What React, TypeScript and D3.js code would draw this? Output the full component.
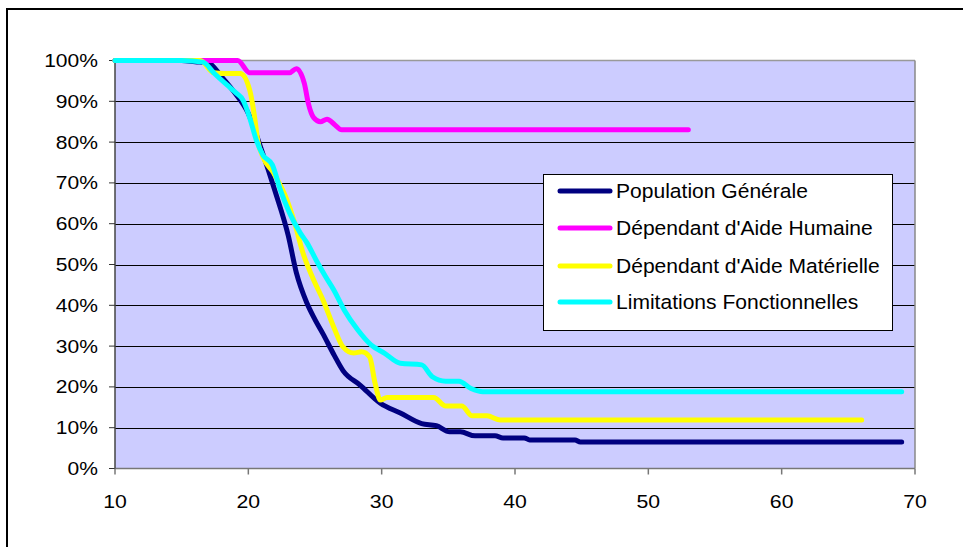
import React from "react";
import * as d3 from "d3";

const seriesNames = [
  "Population Générale",
  "Dépendant d'Aide Humaine",
  "Dépendant d'Aide Matérielle",
  "Limitations Fonctionnelles",
];
const seriesColors = ["#000080", "#FF00FF", "#FFFF00", "#00FFFF"];

const xTicks = [10, 20, 30, 40, 50, 60, 70];
const yTicks = [0, 10, 20, 30, 40, 50, 60, 70, 80, 90, 100];

const popX = [10, 15, 16, 17, 18, 19, 20, 21, 22, 23, 23.6, 24.4, 25, 25.6, 26.4, 27.1, 28.4, 29.9, 31.4, 33, 34.1, 35.1, 35.9, 37, 38.5, 39.1, 40.7, 41.1, 44.5, 44.9, 69];
const popY = [100, 100, 99.7, 99.4, 96, 92, 87, 78, 68, 57, 48, 40.5, 36.5, 33, 28, 24, 20.4, 16, 13.6, 11, 10.5, 9, 9, 8, 8, 7.5, 7.5, 7, 7, 6.5, 6.5];

const humX = [10, 19.2, 20.1, 23.1, 23.6, 24.2, 24.5, 24.9, 25.4, 25.9, 26.5, 27, 53];
const humY = [100, 100, 97, 97, 98, 94.4, 89.5, 86, 85, 85.6, 84.2, 83, 83];

const matX = [10, 16.4, 17.4, 18.2, 19.4, 20.1, 20.5, 20.7, 21.1, 21.9, 22.9, 23.4, 24.1, 24.9, 25.6, 26.4, 27.1, 27.9, 28.5, 29.1, 29.5, 29.9, 30.4, 33.9, 34.8, 36.0, 36.8, 37.9, 38.9, 66];
const matY = [100, 100, 97, 96.8, 96.8, 92.8, 85.4, 80.5, 76.3, 72.4, 65.8, 61, 52.8, 46.2, 41.3, 34.7, 29.8, 28.3, 28.6, 27.3, 21, 16.8, 17.4, 17.4, 15.3, 15.3, 12.9, 12.9, 11.9, 11.9];

const limX = [10, 15, 16.6, 17.4, 18.4, 19.1, 19.6, 20.1, 20.6, 21.1, 21.8, 22.4, 23.1, 23.9, 24.4, 25.1, 25.8, 26.4, 27.2, 28.2, 29.2, 30.2, 31.4, 33, 33.8, 34.8, 35.8, 36.7, 37.6, 69];
const limY = [100, 100, 99.6, 97, 94, 92, 90.3, 86, 80.5, 76.8, 74.4, 68.3, 62.6, 57.7, 55.3, 51, 47, 43.8, 38.8, 34, 30.3, 28.3, 25.8, 25.4, 22.5, 21.4, 21.4, 19.6, 18.8, 18.8];

const seriesX = [popX, humX, matX, limX];
const seriesY = [popY, humY, matY, limY];

const W = 963;
const H = 547;
const plotL = 115;
const plotR = 915;
const plotT = 60.5;
const plotB = 468.5;

export default function App() {
  const x = d3.scaleLinear().domain([10, 70]).range([plotL, plotR]);
  const y = d3.scaleLinear().domain([0, 100]).range([plotB, plotT]);
  const line = d3
    .line<[number, number]>()
    .x((d) => x(d[0]))
    .y((d) => y(d[1]))
    .curve(d3.curveMonotoneX);

  const font = "'Liberation Sans', Arial, sans-serif";

  return (
    <svg
      width={W}
      height={H}
      style={{ position: "fixed", left: 0, top: 0, background: "#fff" }}
    >
      <rect x={0} y={0} width={W} height={H} fill="#fff" />
      <rect x={7} y={9} width={1100} height={1100} fill="none" stroke="#000" strokeWidth={2} />
      <rect x={plotL} y={plotT} width={plotR - plotL} height={plotB - plotT} fill="#CCCCFF" />
      {yTicks.map((t) =>
        t > 0 && t < 100 ? (
          <line key={"g" + t} x1={plotL} x2={plotR} y1={Math.round(y(t)) + 0.5} y2={Math.round(y(t)) + 0.5} stroke="#000" strokeWidth={1} />
        ) : null
      )}
      <line x1={plotL} x2={plotR} y1={plotT} y2={plotT} stroke="#999" strokeWidth={1.5} />
      <line x1={plotR} x2={plotR} y1={plotT} y2={plotB} stroke="#888" strokeWidth={1.5} />
      <line x1={plotL} x2={plotR} y1={plotB} y2={plotB} stroke="#777" strokeWidth={1.5} />
      <line x1={plotL} x2={plotL} y1={plotT} y2={plotB} stroke="#444" strokeWidth={1.5} />
      {yTicks.map((t) => (
        <g key={"yt" + t}>
          <line x1={plotL - 6} x2={plotL} y1={y(t)} y2={y(t)} stroke="#333" strokeWidth={1} />
          <text
            transform={`translate(98,${y(t) + 6.5}) scale(1.17,1)`}
            textAnchor="end"
            fontFamily={font}
            fontSize={18}
            fill="#000"
          >
            {t + "%"}
          </text>
        </g>
      ))}
      {xTicks.map((t) => (
        <g key={"xt" + t}>
          <line x1={x(t)} x2={x(t)} y1={plotB} y2={plotB + 6} stroke="#777" strokeWidth={1.5} />
          <text
            transform={`translate(${x(t)},${508}) scale(1.18,1)`}
            textAnchor="middle"
            fontFamily={font}
            fontSize={18}
            fill="#000"
          >
            {t}
          </text>
        </g>
      ))}
      {seriesNames.map((n, i) => (
        <path
          key={"s" + i}
          d={line(seriesX[i].map((v, j) => [v, seriesY[i][j]] as [number, number])) || ""}
          fill="none"
          stroke={seriesColors[i]}
          strokeWidth={5}
          strokeLinejoin="round"
          strokeLinecap="round"
        />
      ))}
      <rect x={543.5} y={174.5} width={349} height={156} fill="#fff" stroke="#000" strokeWidth={1} />
      {seriesNames.map((n, i) => {
        const ly = [191, 228, 266, 302][i];
        return (
          <g key={"l" + i}>
            <line x1={560} x2={610} y1={ly} y2={ly} stroke={seriesColors[i]} strokeWidth={5} strokeLinecap="round" />
            <text
              transform={`translate(616,${ly + 7}) scale(1.08,1)`}
              fontFamily={font}
              fontSize={19.5}
              fill="#000"
            >
              {n}
            </text>
          </g>
        );
      })}
    </svg>
  );
}
